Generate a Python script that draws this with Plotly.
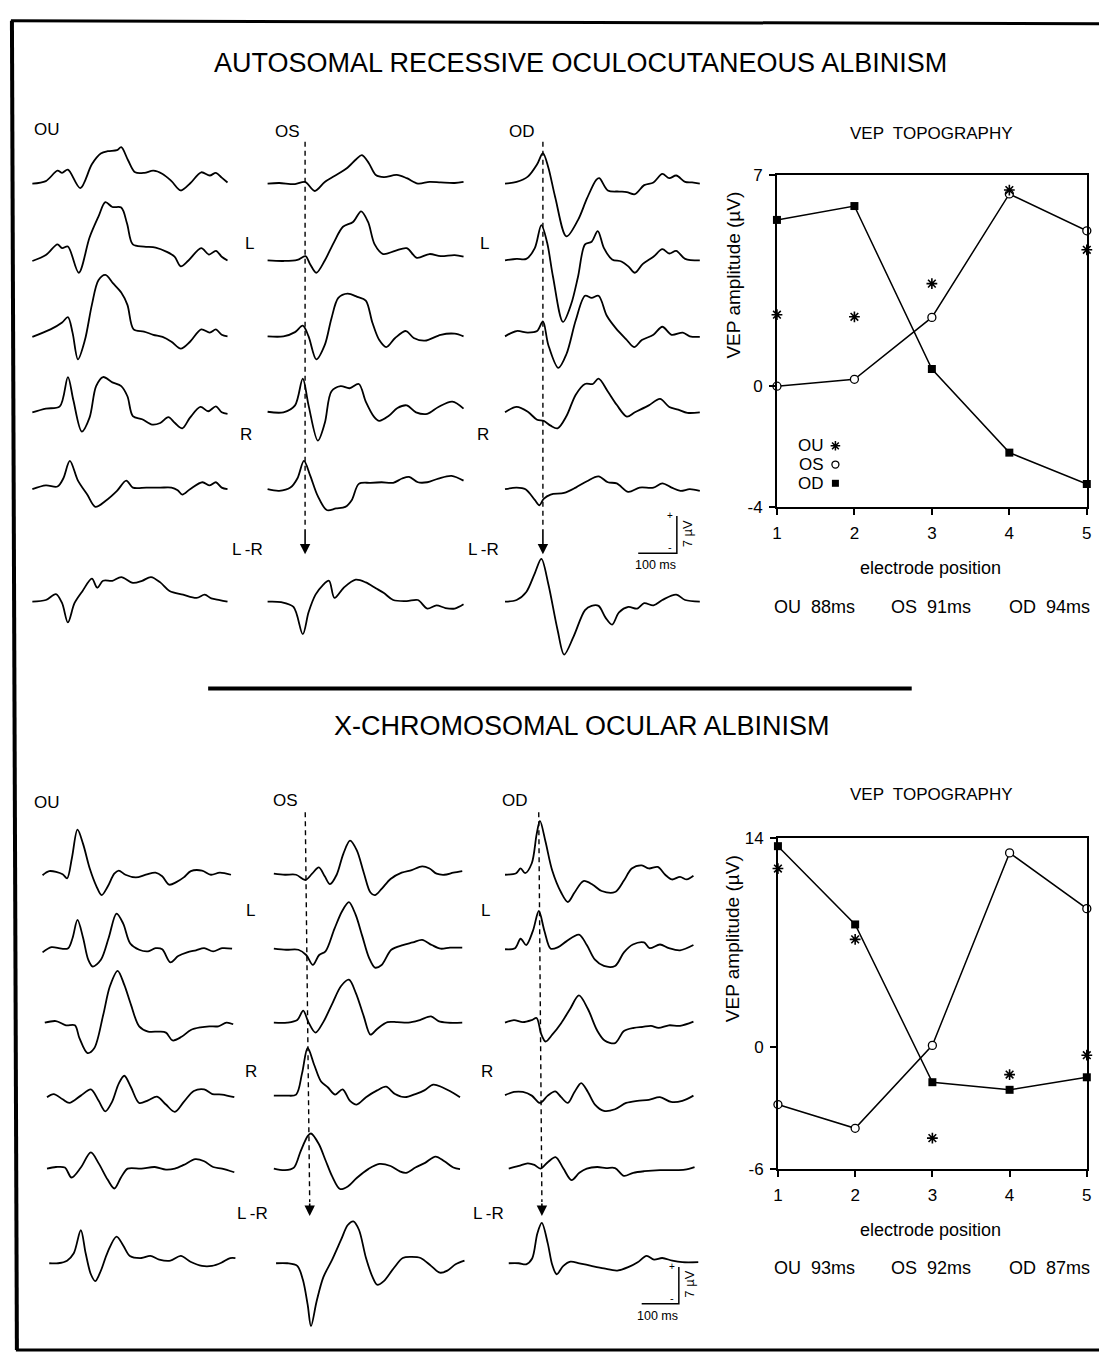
import plotly.graph_objects as go

W, H = 1104, 1362
FONT = "Liberation Sans, Arial, Helvetica, sans-serif"

# ------------------------------------------------------------------ DATA
# VEP waveforms: (time ms, amplitude uV) ; rows = electrodes 1..5 then L-R
# --- Autosomal recessive oculocutaneous albinism (top panel)
ar_ou_1 = [(0,0),(35,0.46),(65,2.4),(77,2.0),(92,2.6),(124,-0.86),(154,3.6),(177,5.6),(195,6.05),(219,6.25),(230,6.8),(248,4.3),(266,2.1),(290,2.0),(313,2.4),(337,1.8),(360,0.46),(384,-1.3),(408,0),(437,2.1),(459,1.5),(475,2.0),(490,1.1),(505,0.2)]
ar_ou_2 = [(0,-0.1),(35,1.0),(65,3.0),(77,2.3),(92,2.6),(120,-2.3),(148,4.3),(171,8.2),(189,10.9),(207,10.0),(230,9.9),(245,6.9),(260,3.0),(289,2.6),(319,2.4),(348,1.6),(368,0.7),(384,-1.1),(404,0),(437,2.3),(457,1.1),(475,1.8),(490,0.7),(505,0)]
ar_ou_3 = [(0,-0.1),(47,1.3),(77,2.6),(92,3.6),(104,0.7),(118,-4.3),(136,-0.7),(154,5.9),(171,10.5),(189,11.5),(209,9.9),(230,8.2),(246,5.9),(262,1.3),(289,0.9),(313,0.3),(337,-0.1),(360,-1.0),(384,-2.3),(408,-1.0),(437,1.3),(459,0.7),(475,1.3),(490,0.3),(505,0)]
ar_ou_4 = [(0,0),(35,0.7),(71,1.1),(92,6.6),(106,2.3),(128,-3.6),(148,-1.0),(165,4.9),(183,6.6),(207,5.6),(230,4.9),(246,3.0),(260,-0.7),(284,-1.3),(310,-2.3),(331,-2.0),(352,-0.9),(369,-2.0),(388,-3.0),(408,-1.0),(435,1.0),(455,0.2),(475,1.1),(490,0),(505,-0.3)]
ar_ou_5 = [(0,0),(35,0.7),(65,0.5),(80,2.0),(97,5.3),(118,1.6),(142,-1.0),(163,-3.3),(189,-2.2),(219,-0.3),(243,1.6),(260,0.3),(295,0.3),(331,0.3),(360,0.3),(376,-0.2),(388,-1.0),(408,0),(440,1.3),(459,0.7),(475,1.3),(490,0.3),(505,0)]
ar_ou_lr = [(0,0),(35,0.3),(61,1.4),(77,-0.3),(92,-3.9),(109,-0.3),(130,2.0),(154,4.3),(168,2.6),(183,3.9),(207,3.9),(230,4.6),(260,3.5),(284,3.9),(307,4.6),(331,3.6),(355,2.0),(390,1.3),(425,0.7),(446,1.3),(463,0.6),(485,0.3),(505,0)]

ar_os_1 = [(0,0),(30,0.1),(71,-0.1),(97,0.3),(122,-1.4),(148,0.3),(173,1.4),(204,2.8),(230,4.6),(244,5.3),(262,3.8),(280,1.6),(301,1.2),(334,1.6),(360,1.0),(389,0),(419,0.3),(448,0.2),(484,0.1),(507,0.3)]
ar_os_2 = [(0,0),(41,-0.1),(77,0.1),(98,0.8),(110,-0.7),(126,-2.3),(148,0),(171,3.3),(195,6.3),(221,7.2),(242,9.2),(260,7.2),(277,3.0),(299,1.2),(330,1.8),(360,2.3),(386,0.5),(419,1.2),(448,0.8),(484,1.0),(507,0.7)]
ar_os_3 = [(0,0),(41,0),(71,0.8),(91,2.0),(106,0),(126,-4.3),(148,-1.6),(165,3.3),(183,7.2),(207,8.0),(232,7.4),(254,6.7),(271,2.6),(289,-0.7),(307,-2.0),(330,-0.3),(358,1.0),(378,-0.3),(407,-0.8),(448,0.3),(484,0.5),(507,0)]
ar_os_4 = [(0,0.1),(41,0),(71,1.3),(91,6.3),(106,1.3),(130,-5.3),(148,-2.0),(165,3.9),(189,4.9),(212,4.5),(236,5.3),(254,2.0),(275,-0.8),(289,-1.6),(313,-0.7),(336,0.8),(360,1.3),(384,0),(413,-0.3),(442,1.0),(478,2.0),(507,0.7)]
ar_os_5 = [(0,0),(30,-0.3),(59,0.3),(77,2.0),(94,5.3),(110,2.6),(130,-1.3),(153,-3.9),(177,-3.6),(201,-3.3),(218,-2.0),(236,1.0),(266,1.2),(295,1.3),(325,1.2),(348,2.0),(366,2.3),(389,1.3),(413,1.3),(442,2.0),(476,2.5),(507,1.6)]
ar_os_lr = [(0,0),(35,-0.1),(67,-1.0),(91,-6.1),(106,-2.0),(124,1.3),(142,3.0),(159,3.9),(173,0.7),(197,2.6),(228,4.1),(254,3.6),(280,2.5),(301,1.6),(325,0.3),(360,0.1),(389,0.3),(413,-1.3),(437,-0.7),(460,-1.2),(484,-1.3),(507,-0.5)]

ar_od_1 = [(0,0),(30,0.3),(59,1.3),(83,3.6),(98,5.7),(112,3.0),(130,-2.6),(159,-9.9),(189,-6.8),(212,-2.8),(236,0.7),(244,1.0),(266,-1.3),(295,-1.5),(315,-1.6),(336,-2.0),(360,-0.3),(384,0.2),(407,1.8),(425,1.0),(443,1.5),(466,0.3),(484,0.2),(504,0)]
ar_od_2 = [(0,0),(30,0.3),(55,0.3),(77,2.3),(94,6.6),(109,3.3),(124,-3.0),(150,-11.5),(171,-8.2),(189,-3.0),(207,3.0),(224,3.5),(240,5.5),(256,2.3),(277,0.2),(301,-0.2),(319,-1.1),(336,-2.3),(356,-0.7),(384,0.7),(407,2.1),(425,1.3),(443,1.8),(466,0.3),(504,0)]
ar_od_3 = [(0,0),(30,1.0),(59,0.7),(83,1.0),(98,2.8),(112,-1.6),(138,-5.9),(159,-3.3),(183,3.0),(207,7.6),(224,7.2),(242,7.6),(263,3.9),(287,1.5),(313,-0.5),(334,-2.0),(354,-0.7),(384,0.3),(407,1.8),(431,0.3),(460,0.7),(478,0),(504,-0.1)]
ar_od_4 = [(0,0),(30,1.0),(59,0.1),(83,-1.4),(100,-1.6),(118,-2.5),(136,-3.0),(159,-0.7),(183,3.3),(207,5.3),(227,5.3),(242,6.3),(266,3.9),(289,1.4),(315,-0.8),(336,0),(372,1.3),(401,2.5),(425,1.0),(448,0.5),(472,-0.1),(504,0)]
ar_od_5 = [(0,0),(30,0.3),(53,0),(77,-2.0),(89,-3.0),(100,-1.8),(118,-1.0),(153,-0.7),(183,0.3),(212,1.5),(242,2.4),(266,1.3),(289,1.1),(319,-0.5),(348,0.3),(384,0.3),(407,1.1),(431,0.3),(454,-0.3),(478,0),(504,-0.3)]
ar_od_lr = [(0,0),(30,0.3),(55,1.8),(77,5.3),(94,8.0),(112,3.3),(136,-5.3),(153,-9.9),(177,-6.6),(207,-1.6),(224,-0.8),(242,-0.8),(260,-3.0),(277,-4.3),(295,-2.0),(319,-1.0),(342,-1.3),(360,-0.3),(384,-0.7),(407,0.3),(443,1.3),(466,0.3),(504,0)]

# --- X-chromosomal ocular albinism (bottom panel)
xo_ou_1 = [(0,-0.1),(18,0.7),(54,0.1),(66,-0.7),(79,3.2),(94,8.6),(109,5.9),(127,1.2),(145,-2.2),(159,-3.9),(175,-2.3),(193,0.2),(205,0.8),(223,0),(251,-0.5),(278,0),(304,0.4),(322,-0.3),(341,-1.9),(360,-1.4),(380,-0.5),(399,0.7),(429,0.8),(453,0),(477,0.4),(507,0)]
xo_ou_2 = [(0,-0.7),(24,0.3),(51,0),(69,0.1),(81,2.1),(94,5.5),(109,2.1),(123,-2.1),(135,-3.4),(157,-2.1),(178,2.1),(199,6.7),(217,4.8),(236,1.0),(260,-0.2),(284,-0.5),(304,0.1),(322,-0.1),(344,-2.6),(365,-1.4),(389,-0.7),(413,-0.3),(435,0.1),(459,-0.5),(483,0.1),(510,0)]
xo_ou_3 = [(6,0),(36,0.3),(63,-0.5),(87,-0.5),(99,-2.9),(121,-5.8),(139,-4.9),(163,1.4),(181,6.9),(202,9.9),(220,7.2),(238,3.4),(260,-0.7),(284,-1.7),(314,-1.7),(332,-1.9),(350,-3.4),(374,-2.7),(399,-1.4),(425,-0.9),(449,-0.7),(473,-0.7),(495,0),(513,-0.3)]
xo_ou_4 = [(12,-0.3),(30,0.3),(54,-0.7),(72,-1.4),(103,0),(130,1.2),(151,-1.0),(169,-3.0),(187,-1.2),(205,2.3),(220,3.8),(238,1.6),(260,-1.4),(284,-0.9),(308,-0.2),(332,-1.7),(356,-3.1),(380,-1.2),(407,0.9),(435,1.2),(457,0.3),(483,0.2),(516,-0.3)]
xo_ou_5 = [(12,0),(36,0.3),(60,0.2),(78,-1.7),(103,0.2),(130,3.1),(151,1.0),(175,-2.1),(193,-3.8),(211,-1.7),(229,0),(266,0),(302,0.3),(332,-0.2),(356,0),(380,0.7),(411,1.8),(435,1.4),(459,0.3),(483,0),(516,-0.7)]
xo_ou_lr = [(18,0),(42,0),(66,0.5),(84,1.9),(103,6.3),(116,1.9),(130,-2.1),(142,-3.4),(157,-1.4),(175,2.1),(199,5.1),(217,3.4),(235,1.4),(266,1.0),(290,1.4),(314,0.7),(344,0.5),(372,1.4),(398,0.3),(429,-0.5),(456,-0.5),(481,0.1),(505,1.0),(519,1.0)]

xo_os_1 = [(0,0.2),(30,0),(60,0),(85,-1.0),(103,0.2),(121,1.4),(137,-0.3),(151,-1.8),(169,0),(187,4.0),(205,6.5),(223,4.7),(242,0.4),(260,-3.4),(272,-3.9),(290,-2.7),(314,-0.8),(344,0.4),(371,0.9),(399,1.6),(419,1.2),(438,0.2),(459,0),(483,0.4),(507,0.7)]
xo_os_2 = [(0,0),(33,-0.2),(66,-0.2),(87,-1.2),(105,-3.1),(122,-1.2),(139,-0.5),(163,3.8),(184,7.2),(202,8.9),(220,6.5),(238,2.4),(256,-1.7),(272,-3.6),(290,-3.1),(316,-0.2),(347,0.7),(374,1.2),(399,1.7),(425,0.7),(449,0),(474,0.2),(507,0.2)]
xo_os_3 = [(0,0),(36,0),(63,0.5),(79,2.3),(93,0.1),(112,-1.9),(133,0.1),(157,3.6),(181,7.0),(202,8.2),(221,5.6),(242,1.2),(260,-2.3),(278,-1.2),(306,0.1),(332,0.1),(362,0),(393,0.5),(423,1.2),(443,0.3),(467,0),(507,0)]
xo_os_4 = [(0,0),(33,0),(60,0.2),(76,4.3),(91,9.1),(109,5.8),(127,2.7),(145,1.6),(165,0.2),(185,1.2),(205,-1.0),(223,-1.7),(248,-0.3),(278,1.0),(302,1.7),(326,0.3),(353,-0.3),(381,0.3),(405,1.0),(429,2.1),(453,1.6),(483,0.5),(501,-0.3)]
xo_os_5 = [(0,0),(30,-0.3),(54,0.2),(72,3.3),(91,6.2),(100,6.7),(121,4.7),(139,1.6),(157,-1.5),(178,-3.9),(199,-3.4),(223,-1.8),(254,-0.1),(284,0.9),(314,0.5),(338,-0.5),(356,-0.8),(381,0.2),(407,1.1),(435,2.3),(459,1.4),(483,0.2),(501,-0.1)]
xo_os_lr = [(6,0),(36,0),(63,-0.5),(78,-3.1),(91,-7.9),(100,-12.0),(115,-7.3),(133,-2.7),(157,0.7),(181,4.5),(199,7.3),(214,8.0),(229,6.4),(248,1.0),(266,-2.7),(278,-4.1),(296,-3.4),(322,-1.0),(347,1.0),(371,1.2),(395,1.0),(423,-0.5),(447,-1.8),(467,-1.4),(489,-0.2),(513,0.5)]

xo_od_1 = [(0,0),(30,0.3),(42,1.2),(54,0.3),(72,2.2),(85,7.7),(94,10.3),(109,6.3),(127,0.8),(151,-3.4),(169,-5.2),(187,-3.4),(211,-1.2),(236,-1.9),(260,-3.1),(296,-3.3),(320,-1.1),(341,1.2),(368,1.8),(387,1.2),(411,1.5),(431,0),(449,-0.9),(471,-0.4),(489,-0.9),(507,-0.2)]
xo_od_2 = [(0,-0.1),(27,0.1),(42,1.9),(57,0.7),(75,3.4),(91,7.2),(106,3.4),(123,0),(143,0.3),(165,1.4),(199,2.7),(220,0.7),(242,-2.1),(266,-3.3),(296,-3.3),(320,-0.7),(344,0.8),(374,1.2),(389,0.1),(417,0.8),(441,0.1),(471,-0.3),(507,0.7)]
xo_od_3 = [(0,0),(24,0.5),(48,0.1),(72,0.5),(85,0.9),(97,-2.1),(109,-3.6),(127,-2.3),(151,-0.1),(175,2.6),(199,5.2),(223,2.6),(248,-1.5),(268,-3.4),(296,-3.9),(320,-1.6),(347,-1.0),(371,-0.8),(393,-0.6),(413,-1.0),(441,-0.5),(471,-0.6),(507,0.2)]
xo_od_4 = [(0,0.1),(24,0.7),(48,0.7),(72,0),(94,-1.4),(115,0),(135,0.8),(151,-0.3),(169,-1.4),(187,0.7),(205,2.4),(223,0.7),(242,-1.7),(266,-2.9),(296,-2.6),(326,-1.4),(356,-1.0),(387,-0.8),(417,-0.3),(447,-1.2),(477,-1.0),(507,0)]
xo_od_5 = [(10,0),(37,0.5),(61,1.0),(79,0.7),(95,0),(115,1.2),(136,2.2),(157,0),(179,-2.2),(200,-0.8),(220,0),(248,0.3),(272,0.1),(296,0.1),(320,-1.4),(345,-0.8),(375,-0.5),(417,-0.3),(453,-0.3),(484,-0.2),(510,0.3)]
xo_od_lr = [(10,0),(37,0),(57,-0.2),(73,0.9),(87,5.7),(99,7.7),(115,3.8),(127,-0.3),(139,-2.1),(157,-0.5),(176,0.3),(200,0),(232,-0.5),(266,-1.0),(302,-1.4),(333,-0.7),(357,0.2),(381,1.4),(401,0.7),(423,1.0),(450,0.5),(477,0.2),(520,0.2)]

# VEP topography (amplitude uV per electrode position)
electrodes = [1, 2, 3, 4, 5]
ar_topo_ou = [2.37, 2.3, 3.4, 6.5, 4.52]
ar_topo_os = [0.0, 0.23, 2.28, 6.37, 5.15]
ar_topo_od = [5.51, 5.97, 0.57, -2.2, -3.24]
xo_topo_ou = [11.95, 7.2, -6.13, -1.87, -0.57]
xo_topo_os = [-3.88, -5.47, 0.09, 13.0, 9.26]
xo_topo_od = [13.45, 8.2, -2.38, -2.89, -2.05]

ar_latency = [("OU", 88), ("OS", 91), ("OD", 94)]
xo_latency = [("OU", 93), ("OS", 92), ("OD", 87)]

# latency marker (ms) at top / at arrow of the dashed line for OS and OD columns
ar_marker_ms = {1: (97, 97), 2: (98, 98)}
xo_marker_ms = {1: (84.5, 96.5), 2: (90.7, 99.2)}

scale_ms = 100
scale_uv = 7

ar_title = "AUTOSOMAL RECESSIVE OCULOCUTANEOUS ALBINISM"
xo_title = "X-CHROMOSOMAL OCULAR ALBINISM"

# ------------------------------------------------------------------ FIGURE
fig = go.Figure()
axes = {}
annotations = []
shapes = []
count = [0]


def add_axes(x0, x1, y0, y1, xr, yr):
    count[0] += 1
    s = '' if count[0] == 1 else str(count[0])
    axes['xaxis' + s] = dict(domain=[x0 / W, x1 / W], range=xr, visible=False,
                             anchor='y' + s, fixedrange=True)
    axes['yaxis' + s] = dict(domain=[1 - y1 / H, 1 - y0 / H], range=yr, visible=False,
                             anchor='x' + s, fixedrange=True)
    return 'x' + s, 'y' + s, s


def text(x, y, s, size, angle=0, xanchor='center'):
    annotations.append(dict(x=x / W, y=1 - y / H, xref='paper', yref='paper', text=s,
                            showarrow=False, textangle=angle, xanchor=xanchor,
                            yanchor='middle', font=dict(size=size, family=FONT, color='black')))


def pline(x0, y0, x1, y1, w):
    shapes.append(dict(type='line', xref='paper', yref='paper', x0=x0 / W, y0=1 - y0 / H,
                       x1=x1 / W, y1=1 - y1 / H, line=dict(color='black', width=w)))


panels = [
    dict(waves=[[ar_ou_1, ar_ou_2, ar_ou_3, ar_ou_4, ar_ou_5, ar_ou_lr],
                [ar_os_1, ar_os_2, ar_os_3, ar_os_4, ar_os_5, ar_os_lr],
                [ar_od_1, ar_od_2, ar_od_3, ar_od_4, ar_od_5, ar_od_lr]],
         origins=[27.6, 265.0, 504.6], rows=[177, 255, 332, 409, 487, 601],
         sx=0.39, sy=5.42, ybox=(110, 670), markers=ar_marker_ms,
         mk_y=(134.7, 526, 553), bar=(678, 552)),
    dict(waves=[[xo_ou_1, xo_ou_2, xo_ou_3, xo_ou_4, xo_ou_5, xo_ou_lr],
                [xo_os_1, xo_os_2, xo_os_3, xo_os_4, xo_os_5, xo_os_lr],
                [xo_od_1, xo_od_2, xo_od_3, xo_od_4, xo_od_5, xo_od_lr]],
         origins=[37.9, 271.3, 504.6], rows=[878, 953, 1028, 1102, 1176, 1272],
         sx=0.375, sy=5.31, ybox=(785, 1345), markers=xo_marker_ms,
         mk_y=(814.7, 1210, 1224), bar=(680, 1313)),
]

for p in panels:
    base = p['rows'][-1]
    yb0, yb1 = p['ybox']
    uv = lambda ypx: (base - ypx) / p['sy']
    for c, col in enumerate(p['waves']):
        org = p['origins'][c]
        x0, x1 = org - 15, org + 220
        xa, ya, s = add_axes(x0, x1, yb0, yb1,
                             [(x0 - org) / p['sx'], (x1 - org) / p['sx']],
                             [uv(yb1), uv(yb0)])
        for r, wave in enumerate(col):
            off = uv(p['rows'][r])
            fig.add_trace(go.Scatter(
                x=[t for t, _ in wave], y=[v + off for _, v in wave], mode='lines',
                line=dict(color='black', width=1.8, shape='spline', smoothing=0.9),
                xaxis=xa, yaxis=ya, hoverinfo='skip'))
        if c in p['markers']:
            t_top, t_bot = p['markers'][c]
            y_top, y_end, y_tip = p['mk_y']
            fig.add_trace(go.Scatter(
                x=[t_top, t_bot], y=[uv(y_top), uv(y_end)], mode='lines',
                line=dict(color='black', width=1.4, dash='5px,4px'),
                xaxis=xa, yaxis=ya, hoverinfo='skip'))
            annotations.append(dict(x=t_bot, y=uv(y_tip), ax=t_bot, ay=uv(y_end),
                                    xref=xa, yref=ya, axref=xa, ayref=ya, text='',
                                    showarrow=True, arrowhead=2, arrowsize=1.3,
                                    arrowwidth=1.6, arrowcolor='black', standoff=0))
        if c == 2:
            bx, by = p['bar']
            tx, vy = (bx - org) / p['sx'], uv(by)
            fig.add_trace(go.Scatter(
                x=[tx - scale_ms, tx, tx], y=[vy, vy, vy + scale_uv], mode='lines',
                line=dict(color='black', width=1.5), xaxis=xa, yaxis=ya, hoverinfo='skip'))


def topo(box, yr, yticks, ylabels, ou, os_, od):
    x0, x1, y0, y1 = box
    xa, ya, s = add_axes(x0, x1, y0, y1, [1, 5], yr)
    common = dict(visible=True, showline=True, linecolor='black', linewidth=1.6, mirror=True,
                  ticks='outside', ticklen=6, tickwidth=1.5, tickcolor='black',
                  showgrid=False, zeroline=False,
                  tickfont=dict(size=17, family=FONT, color='black'))
    axes['xaxis' + s].update(common, tickvals=electrodes, ticktext=[str(e) for e in electrodes],
                             ticklabelstandoff=4)
    axes['yaxis' + s].update(common, tickvals=yticks, ticktext=ylabels, ticklabelstandoff=3)
    fig.add_trace(go.Scatter(x=electrodes, y=od, mode='lines+markers', xaxis=xa, yaxis=ya,
                             line=dict(color='black', width=1.5),
                             marker=dict(symbol='square', size=8, color='black'),
                             cliponaxis=False, hoverinfo='skip'))
    fig.add_trace(go.Scatter(x=electrodes, y=os_, mode='lines+markers', xaxis=xa, yaxis=ya,
                             line=dict(color='black', width=1.5),
                             marker=dict(symbol='circle', size=8, color='white',
                                         line=dict(color='black', width=1.3)),
                             cliponaxis=False, hoverinfo='skip'))
    fig.add_trace(go.Scatter(x=electrodes, y=ou, mode='markers', xaxis=xa, yaxis=ya,
                             marker=dict(symbol='asterisk-open', size=9, color='black',
                                         line=dict(color='black', width=1.6)),
                             cliponaxis=False, hoverinfo='skip'))
    return xa, ya


ar_box = (779, 1091.7, 168.3, 505)
xa_t, ya_t = topo(ar_box, [-4, 7], [-4, 0, 7], ['-4', '0', '7'],
                  ar_topo_ou, ar_topo_os, ar_topo_od)
xo_box = (780, 1091.7, 840.7, 1176.7)
topo(xo_box, [-8.22, 14], [-8.22, 0, 14], ['-6', '0', '14'],
     xo_topo_ou, xo_topo_os, xo_topo_od)

# legend of the top topography (symbols right of the labels)
def to_topo(px_x, px_y):
    x0, x1, y0, y1 = ar_box
    return 1 + (px_x - x0) / (x1 - x0) * 4, -4 + (y1 - px_y) / (y1 - y0) * 11

legend_rows = [("OU", 443, dict(symbol='asterisk-open', size=8, color='black', line=dict(color='black', width=1.5))),
               ("OS", 462, dict(symbol='circle', size=7, color='white', line=dict(color='black', width=1.3))),
               ("OD", 481, dict(symbol='square', size=7, color='black'))]
for lab, ypx, mk in legend_rows:
    text(829, ypx, lab, 17, xanchor='right')
    lx, ly = to_topo(838, ypx)
    fig.add_trace(go.Scatter(x=[lx], y=[ly], mode='markers', marker=mk, xaxis=xa_t, yaxis=ya_t,
                             cliponaxis=False, hoverinfo='skip'))

# ------------------------------------------------------------------ TEXT
text(581, 55, ar_title, 27)
text(582, 727, xo_title, 27)

for (ou_x, ou_y), (os_x, os_y), (od_x, od_y) in [((42, 122), (285, 124), (522, 124)),
                                               ((42, 805), (283, 803), (515, 803))]:
    text(ou_x, ou_y, "OU", 17)
    text(os_x, os_y, "OS", 17)
    text(od_x, od_y, "OD", 17)

for lx, ly, rx, ry, dx, dy in [(247, 238, 243, 432, 245, 548), (484, 238, 482, 432, 483, 548),
                               (248, 914, 248, 1078, 250, 1222), (485, 914, 486, 1078, 488, 1222)]:
    text(lx, ly, "L", 17)
    text(rx, ry, "R", 17)
    text(dx, dy, "L\u2009-R", 17)

for yt, ya_, ye, yl, lat in [(126, 270, 567, 606, ar_latency), (797, 943, 1238, 1277, xo_latency)]:
    text(935, yt, "VEP  TOPOGRAPHY", 17)
    text(735, ya_, "VEP amplitude (µV)", 19, angle=-90)
    text(934, ye, "electrode position", 18)
    for (eye, ms), cx in zip(lat, [817, 934, 1054]):
        text(cx, yl, f"{eye}  {ms}ms", 18)

# scale-bar labels
for px_, py_ in [(678, 552), (680, 1313)]:
    text(px_ - 7, py_ - 38, "+", 10)
    text(px_ - 7, py_ - 6, "-", 11)
    text(px_ + 11, py_ - 20, "7 µV", 13, angle=-90)
    text(px_ - 22, py_ + 12, "100 ms", 12.5)

# frame and separator
pline(7, 12, 12, 1360, 4)
pline(6, 12, 1104, 15, 3)
pline(11, 1360, 1104, 1360, 3)
pline(205, 689, 915, 689, 4)

fig.update_layout(width=W, height=H, margin=dict(l=0, r=0, t=0, b=0),
                  paper_bgcolor='white', plot_bgcolor='rgba(0,0,0,0)', showlegend=False,
                  annotations=annotations, shapes=shapes, **axes)

page_fix = ("var h=document.documentElement,b=document.body;"
            "h.style.margin='0';b.style.margin='0';h.style.overflow='hidden';b.style.overflow='hidden';"
            "var d=document.getElementById('{plot_id}');"
            "d.style.position='fixed';d.style.left='0px';d.style.top='0px';")
fig.write_html("out.html", config={'displayModeBar': False}, post_script=page_fix)
